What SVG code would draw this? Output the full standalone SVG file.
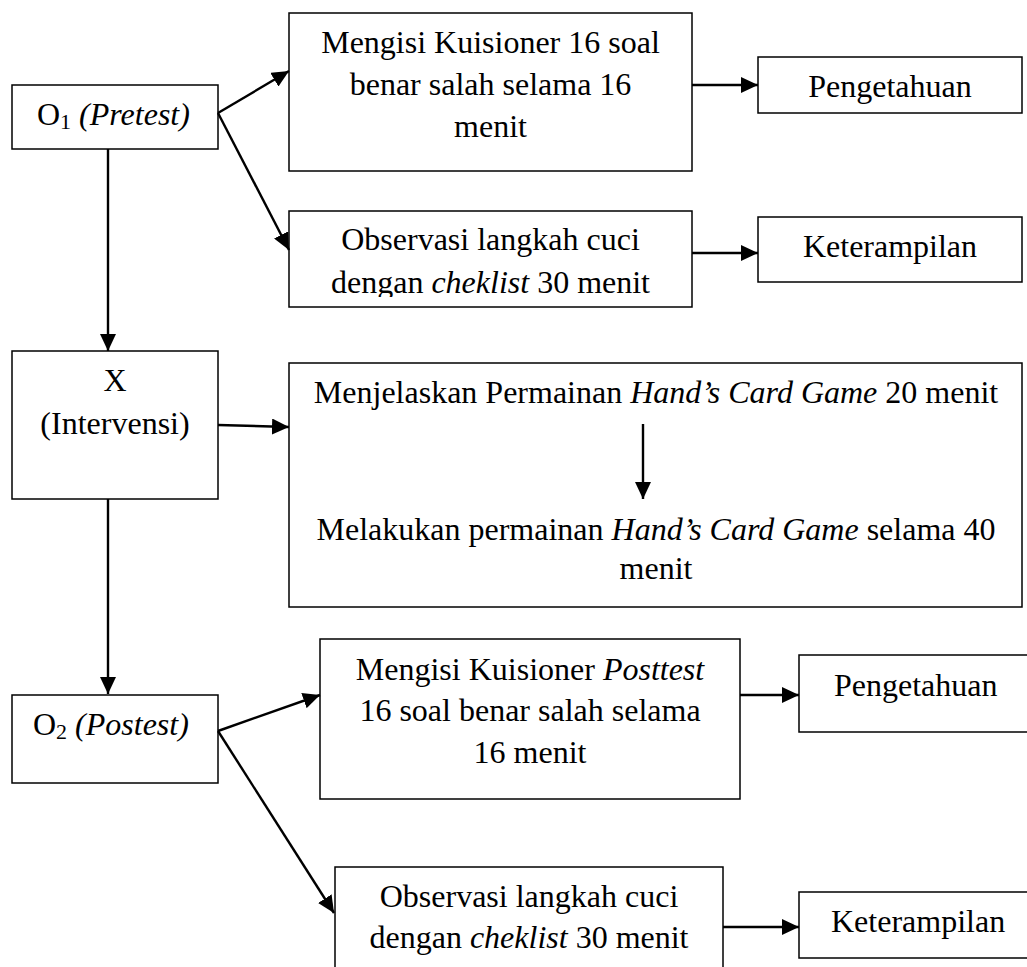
<svg xmlns="http://www.w3.org/2000/svg" width="1027" height="967" viewBox="0 0 1027 967">
<style>
  .box { fill: #fff; stroke: #000; stroke-width: 1.5; }
  .t { font-family: "Liberation Serif", "Times New Roman", serif; font-size: 32px; fill: #000; }
  .c { text-anchor: middle; }
  .i { font-style: italic; }
  .conn line { stroke: #000; stroke-width: 2.4; marker-end: url(#ah); }
</style>
<defs>
  <marker id="ah" markerUnits="userSpaceOnUse" markerWidth="18" markerHeight="16" refX="17" refY="8" orient="auto">
    <path d="M0,0 L17,8 L0,16 Z" fill="#000"/>
  </marker>
  <clipPath id="clipObs1"><rect x="289" y="211" width="403" height="86"/></clipPath>
</defs>
<rect width="1027" height="967" fill="#fff"/>

<g id="o1">
  <rect class="box" x="12" y="85" width="206" height="64"/>
  <text class="t" x="37" y="125">O<tspan font-size="22" dy="4">1</tspan><tspan dy="-4"> </tspan><tspan class="i">(Pretest)</tspan></text>
</g>

<g id="kuisioner1">
  <rect class="box" x="289" y="13" width="403" height="158"/>
  <text class="t c" x="490.5" y="53">Mengisi Kuisioner 16 soal</text>
  <text class="t c" x="490.5" y="95">benar salah selama 16</text>
  <text class="t c" x="490.5" y="137">menit</text>
</g>

<g id="pengetahuan1">
  <rect class="box" x="758" y="57" width="264" height="56"/>
  <text class="t c" x="890" y="97">Pengetahuan</text>
</g>

<g id="observasi1">
  <rect class="box" x="289" y="211" width="403" height="96"/>
  <g clip-path="url(#clipObs1)">
    <text class="t c" x="490.5" y="250">Observasi langkah cuci</text>
    <text class="t c" x="490.5" y="293">dengan <tspan class="i">cheklist</tspan> 30 menit</text>
  </g>
</g>

<g id="keterampilan1">
  <rect class="box" x="758" y="217" width="264" height="65"/>
  <text class="t c" x="890" y="257">Keterampilan</text>
</g>

<g id="x">
  <rect class="box" x="12" y="351" width="206" height="148"/>
  <text class="t c" x="115" y="391">X</text>
  <text class="t c" x="115" y="434">(Intervensi)</text>
</g>

<g id="intervensi">
  <rect class="box" x="289" y="363" width="733" height="244"/>
  <text class="t c" x="656" y="403">Menjelaskan Permainan <tspan class="i">Hand’s Card Game</tspan> 20 menit</text>
  <text class="t c" x="656" y="540">Melakukan permainan <tspan class="i">Hand’s Card Game</tspan> selama 40</text>
  <text class="t c" x="656" y="579">menit</text>
</g>

<g id="o2">
  <rect class="box" x="12" y="695" width="206" height="88"/>
  <text class="t" x="33" y="735">O<tspan font-size="22" dy="4">2</tspan><tspan dy="-4"> </tspan><tspan class="i">(Postest)</tspan></text>
</g>

<g id="kuisioner2">
  <rect class="box" x="320" y="639" width="420" height="160"/>
  <text class="t c" x="530" y="680">Mengisi Kuisioner <tspan class="i">Posttest</tspan></text>
  <text class="t c" x="530" y="721">16 soal benar salah selama</text>
  <text class="t c" x="530" y="763">16 menit</text>
</g>

<g id="pengetahuan2">
  <rect class="box" x="799" y="655" width="240" height="77"/>
  <text class="t" x="834" y="696">Pengetahuan</text>
</g>

<g id="observasi2">
  <rect class="box" x="335" y="867" width="388" height="120"/>
  <text class="t c" x="529" y="907">Observasi langkah cuci</text>
  <text class="t c" x="529" y="948">dengan <tspan class="i">cheklist</tspan> 30 menit</text>
</g>

<g id="keterampilan2">
  <rect class="box" x="799" y="892" width="240" height="66"/>
  <text class="t" x="831" y="932">Keterampilan</text>
</g>

<g class="conn" id="connectors">
  <line x1="218" y1="113" x2="289" y2="71"/>
  <line x1="218" y1="113" x2="289" y2="250"/>
  <line x1="692" y1="85" x2="758" y2="85"/>
  <line x1="692" y1="253" x2="758" y2="253"/>
  <line x1="108" y1="149" x2="108" y2="351"/>
  <line x1="218" y1="425" x2="289" y2="427"/>
  <line x1="643" y1="424" x2="643" y2="499"/>
  <line x1="108" y1="499" x2="108" y2="694"/>
  <line x1="218" y1="731" x2="320" y2="695"/>
  <line x1="218" y1="731" x2="334" y2="913"/>
  <line x1="740" y1="695" x2="799" y2="695"/>
  <line x1="723" y1="927" x2="799" y2="927"/>
</g>
</svg>
